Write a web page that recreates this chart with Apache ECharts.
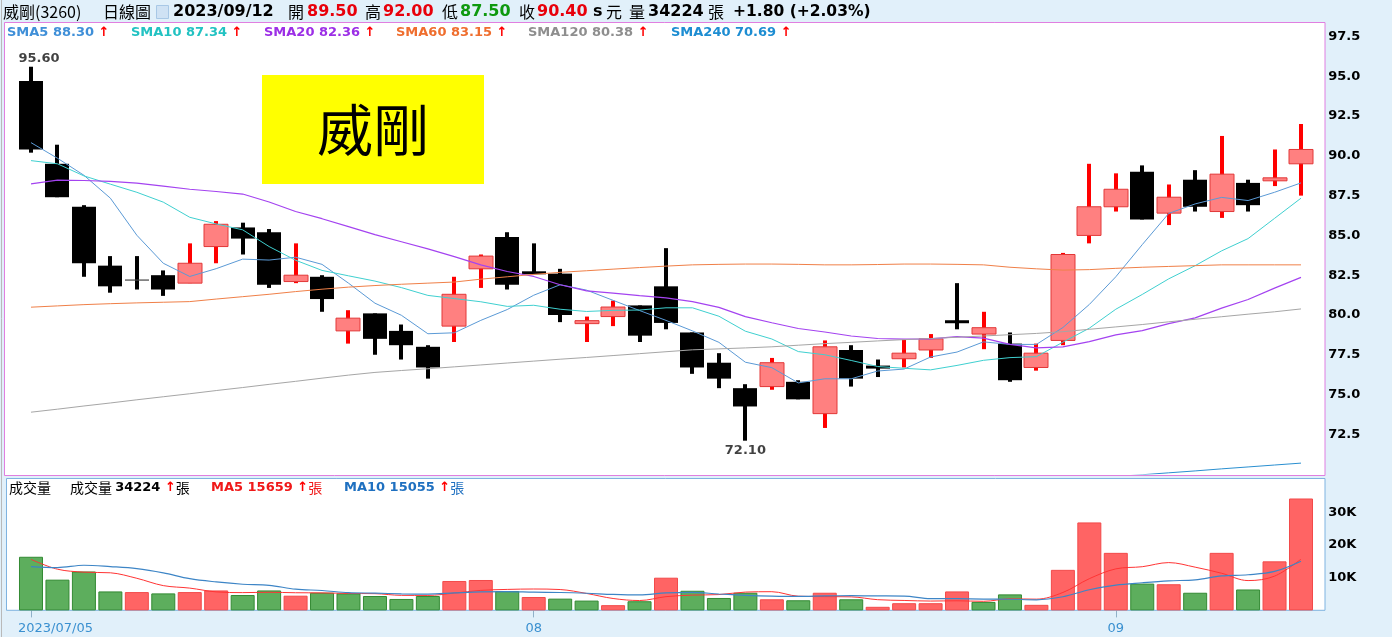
<!DOCTYPE html>
<html><head><meta charset="utf-8">
<script src="https://cdn.jsdelivr.net/npm/echarts@6/dist/echarts.min.js"></script>
<style>html,body{margin:0;padding:0;background:#fff}#c{width:1392px;height:642px}</style>
</head><body><div id="c"></div>
<script>
// ---------------- data ----------------
const dates = ['2023/07/05','2023/07/06','2023/07/07','2023/07/10','2023/07/11','2023/07/12','2023/07/13','2023/07/14','2023/07/17','2023/07/18','2023/07/19','2023/07/20','2023/07/21','2023/07/24','2023/07/25','2023/07/26','2023/07/27','2023/07/28','2023/07/31','2023/08/01','2023/08/02','2023/08/04','2023/08/07','2023/08/08','2023/08/09','2023/08/10','2023/08/11','2023/08/14','2023/08/15','2023/08/16','2023/08/17','2023/08/18','2023/08/21','2023/08/22','2023/08/23','2023/08/24','2023/08/25','2023/08/28','2023/08/29','2023/08/30','2023/08/31','2023/09/01','2023/09/04','2023/09/05','2023/09/06','2023/09/07','2023/09/08','2023/09/11','2023/09/12'];
const opens  = [94.7,89.5,86.8,83.1,82.2,82.5,82.0,84.3,85.5,85.2,82.1,82.4,79.0,80.1,79.0,78.0,79.3,82.9,84.9,82.7,82.6,79.5,79.9,80.6,81.8,78.9,77.0,75.4,75.5,75.8,73.8,77.8,76.75,77.25,77.8,79.6,78.8,78.2,76.7,78.4,85.0,86.8,89.0,86.4,88.5,86.5,88.3,88.45,89.5];
const closes = [90.4,87.4,83.25,81.8,82.2,81.6,83.25,85.7,84.8,81.9,82.5,81.0,79.8,78.5,78.1,76.7,81.3,83.7,81.9,82.6,80.0,79.6,80.5,78.7,79.5,76.7,76.0,74.25,77.0,74.7,78.0,76.0,76.7,77.6,78.5,79.55,79.2,75.9,77.6,83.8,86.8,87.9,86.0,87.4,86.8,88.85,86.9,88.6,90.4];
const highs  = [95.6,90.7,86.9,83.7,83.7,82.8,84.5,85.9,85.8,85.4,84.5,82.5,80.3,80.1,79.4,78.1,82.4,83.8,85.2,84.5,82.9,79.9,80.9,80.6,84.2,78.9,77.6,75.65,77.3,75.9,78.4,78.1,77.2,78.45,78.8,82.0,80.2,78.9,78.2,83.9,89.5,88.9,89.4,88.2,89.1,91.25,88.5,90.4,92.0];
const lows   = [90.2,87.4,82.4,81.4,81.6,81.2,82.0,83.25,83.8,81.7,82.0,80.2,78.2,77.5,77.2,76.0,78.3,81.7,81.6,82.6,79.55,78.3,79.3,78.3,79.1,76.3,75.4,72.1,75.3,74.7,72.9,75.5,76.1,76.7,77.3,79.1,77.85,75.8,76.5,78.1,84.5,86.5,86.0,85.65,86.5,86.1,86.5,88.1,87.5];
const volumes = [16400,9400,11900,5800,5600,5200,5600,6100,4700,6100,4500,5400,5200,4400,3500,4400,9000,9300,5900,4100,3600,3000,1600,2800,10000,6000,3800,5400,3400,3100,5400,3400,1100,2200,2200,5800,2600,4900,1700,12400,26900,17600,8200,8000,5400,17600,6400,15000,34224];

const sma5   = [90.83,89.85,88.78,87.34,85.01,83.25,82.42,82.91,83.51,83.45,83.63,83.18,82.0,80.74,79.98,78.82,78.88,79.66,80.34,81.24,81.9,81.56,80.92,80.28,79.66,79.0,78.28,77.03,76.69,75.73,75.99,75.99,76.48,76.6,77.36,77.67,78.31,78.15,78.15,79.21,80.66,82.4,84.42,86.38,86.98,87.39,87.19,87.71,88.30];
const sma10  = [89.7,89.5,88.74,88.22,87.71,87.09,86.14,85.72,85.35,84.3,83.44,82.8,82.46,82.13,81.72,81.23,81.03,80.83,80.54,80.61,80.36,80.22,80.29,80.31,80.45,80.45,79.92,78.98,78.49,77.7,77.5,77.14,76.76,76.65,76.55,76.83,77.15,77.32,77.38,78.29,79.17,80.36,81.29,82.27,83.1,84.03,84.8,86.07,87.34];
const sma20  = [88.24,88.48,88.45,88.4,88.28,88.1,87.9,87.76,87.6,87.1,86.5,86.05,85.55,85.05,84.6,84.15,83.67,83.15,82.73,82.42,81.9,81.51,81.37,81.22,81.08,80.84,80.48,79.9,79.51,79.15,78.93,78.68,78.52,78.48,78.5,78.64,78.54,78.15,77.93,77.99,78.33,78.75,79.02,79.46,79.82,80.43,80.97,81.69,82.36];
const sma60  = [80.49,80.57,80.65,80.71,80.76,80.8,80.84,81.0,81.15,81.3,81.47,81.62,81.75,81.85,81.93,82.0,82.07,82.25,82.4,82.55,82.68,82.78,82.88,82.98,83.07,83.15,83.18,83.2,83.2,83.18,83.15,83.15,83.17,83.2,83.2,83.18,83.15,83.0,82.9,82.82,82.85,82.93,83.0,83.05,83.1,83.15,83.15,83.15,83.15];
const sma120 = [73.89,74.08,74.28,74.47,74.67,74.86,75.05,75.25,75.44,75.64,75.83,76.03,76.22,76.39,76.51,76.62,76.74,76.86,76.98,77.1,77.22,77.33,77.45,77.57,77.69,77.81,77.87,77.93,78.0,78.1,78.2,78.28,78.37,78.45,78.52,78.6,78.68,78.76,78.84,78.95,79.1,79.25,79.4,79.57,79.73,79.89,80.05,80.2,80.38];
const sma240 = [null,null,null,null,null,null,null,null,null,null,null,null,null,null,null,null,null,null,null,null,null,null,null,null,null,null,null,null,null,null,null,null,null,null,null,null,null,null,null,null,null,69.85,69.96,70.08,70.2,70.33,70.45,70.57,70.69];
const volMa5  = [15600,12600,11700,11500,9820,7580,6820,5660,5440,5540,5400,5360,5180,5120,4600,4580,5300,6120,6420,6540,6380,5180,3640,3020,4200,4680,4840,5600,5720,4340,4220,4140,3280,3040,2860,2940,2780,3540,3440,5480,9700,12700,13360,14620,13220,11360,9120,10480,15659];
const volMa10 = [13400,13100,13800,13400,12800,11500,9700,8700,8000,7680,6490,6090,5420,5280,5070,4990,5330,5650,5770,5570,5480,5240,4880,4720,5370,5530,5010,4620,4370,4270,4450,4490,4440,4380,3600,3580,3460,3410,3240,4170,6320,7740,8450,9030,9350,10530,10910,11920,15055];

const xTickIdx  = [0, 19, 41];
const xTickText = ['2023/07/05', '08', '09'];

// ---------------- styles ----------------
const C = {
  sma5:'#5b9ad6', sma10:'#3fd0d0', sma20:'#a443f0', sma60:'#f08048', sma120:'#a6a6a6', sma240:'#2a8fd0',
  t5:'#3f8fd8', t10:'#22c2c2', t20:'#9c2fe6', t60:'#ef6e2e', t120:'#8e8e8e', t240:'#1d8dd2',
  red:'#e8000b', green:'#0f990f', bg:'#e1f0fa'
};
const NUM = '"DejaVu Sans", Verdana, sans-serif';
const CJK = '"Noto Sans CJK TC", "Noto Sans CJK SC", sans-serif';
const N = dates.length;
const last = N - 1;

const chart = echarts.init(document.getElementById('c'), null, {width:1392, height:642});

function renderCandle(params, api) {
  const i = api.value(0);
  const o = api.value(1), c = api.value(2), l = api.value(3), h = api.value(4);
  const pO = api.coord([i, o]), pC = api.coord([i, c]);
  const pH = api.coord([i, h]), pL = api.coord([i, l]);
  const slot = api.size([1, 0])[0];
  const bw = Math.round(slot * 0.907);
  const x = Math.round(pO[0]);
  const up = c > o;
  const flat = o === c;
  let top = Math.min(pO[1], pC[1]);
  let hgt = Math.abs(pO[1] - pC[1]);
  if (flat) { top -= 0.5; hgt = 1.2; }
  else if (hgt < 3) { top -= (3 - hgt) / 2; hgt = 3; }
  return {type:'group', children:[
    {type:'rect', shape:{x:x - 2, y:pH[1], width:4, height:pL[1] - pH[1]}, style:{fill: up ? '#ff0000' : '#000'}},
    {type:'rect', shape:{x:x - bw/2, y:top, width:bw, height:hgt},
      style: up ? {fill:'#ff8080', stroke:'#e23838', lineWidth:1} : {fill: flat ? '#444' : '#000'}}
  ]};
}

const candleData = dates.map((d, i) => [i, opens[i], closes[i], lows[i], highs[i]]);
const volData = volumes.map((v, i) => {
  const up = i > 0 && closes[i] > closes[i - 1];
  return {value: v, itemStyle: up ? {color:'#ff6464', borderColor:'#f24a4a', borderWidth:1}
                                   : {color:'#5dae5d', borderColor:'#338a33', borderWidth:1}};
});
let maxI = 0, minI = 0;
highs.forEach((v, i) => { if (v > highs[maxI]) maxI = i; });
lows.forEach((v, i) => { if (v < lows[minI]) minI = i; });

function line(name, data, color, xi, yi, w, smooth) {
  return {name, type:'line', xAxisIndex:xi, yAxisIndex:yi, data, showSymbol:false, symbol:'none',
    smooth: smooth || false, lineStyle:{color, width:w || 1}, itemStyle:{color}, silent:true, z:5, clip:true};
}

function txt(x, y, text, fill, font) {
  return {type:'text', x, y, z:10, style:{text, fill, font, textAlign:'left', align:'left', textVerticalAlign:'middle', verticalAlign:'middle'}};
}
function rtxt(x, y, text, rich) {
  return {type:'text', x, y, z:10, style:{text, rich, textAlign:'left', align:'left', textVerticalAlign:'middle', verticalAlign:'middle'}};
}
const B13 = 'bold 13px ' + NUM;
const arrowStyle = {fill:'#ff0000', font:'bold 13px ' + NUM};

function smaItem(x, label, arr, color) {
  return rtxt(x, 33, '{a|' + label + ' ' + arr[last].toFixed(2) + '}{u| ↑}', {a:{fill:color, font:B13}, u:arrowStyle});
}

const f2 = v => v.toFixed(2);
const chg = closes[last] - closes[last - 1];
const pct = chg / closes[last - 1] * 100;
const HB = 'bold 16px ' + NUM;
const HC = '16px ' + CJK;

const graphic = [
  {type:'rect', z:-10, shape:{x:0, y:0, width:1392, height:637}, style:{fill:C.bg}},
  {type:'line', z:-9, shape:{x1:1.5, y1:0, x2:1.5, y2:637}, style:{stroke:'#b9b9b9', lineWidth:1}},
  {type:'rect', z:-8, shape:{x:4.5, y:22.5, width:1320.5, height:453}, style:{fill:'#fff', stroke:'#e07fe0', lineWidth:1}},
  {type:'rect', z:-8, shape:{x:6.5, y:478.5, width:1318.5, height:131.8}, style:{fill:'#fff', stroke:'#7fb3e0', lineWidth:1}},
  // header
  txt(3, 12, '威剛(3260)', '#000', HC),
  txt(103, 12, '日線圖', '#000', HC),
  {type:'rect', z:10, shape:{x:156.5, y:5.5, width:12, height:13}, style:{fill:'#cfe2f4', stroke:'#a8c8e6', lineWidth:1}},
  txt(173, 12, dates[last], '#000', HB),
  txt(288, 12, '開', '#000', HC),
  txt(307, 12, f2(opens[last]), C.red, HB),
  txt(365, 12, '高', '#000', HC),
  txt(383, 12, f2(highs[last]), C.red, HB),
  txt(442, 12, '低', '#000', HC),
  txt(460, 12, f2(lows[last]), C.green, HB),
  txt(519, 12, '收', '#000', HC),
  txt(537, 12, f2(closes[last]), C.red, HB),
  txt(593, 12, 's', '#000', HB),
  txt(606, 12, '元', '#000', HC),
  txt(629, 12, '量', '#000', HC),
  txt(648, 12, String(volumes[last]), '#000', HB),
  txt(708, 12, '張', '#000', HC),
  txt(733, 12, '+' + f2(chg) + ' (+' + f2(pct) + '%)', '#000', 'bold 15.5px ' + NUM),
  // SMA legend row
  smaItem(7, 'SMA5', sma5, C.t5),
  smaItem(131, 'SMA10', sma10, C.t10),
  smaItem(264, 'SMA20', sma20, C.t20),
  smaItem(396, 'SMA60', sma60, C.t60),
  smaItem(528, 'SMA120', sma120, C.t120),
  smaItem(671, 'SMA240', sma240, C.t240),
  // volume legend row
  txt(9, 488, '成交量', '#000', '14px ' + CJK),
  rtxt(70, 488, '{c|成交量 }{b|' + volumes[last] + '}{u| ↑}{c|張}', {c:{fill:'#000', font:'14px ' + CJK}, b:{fill:'#000', font:B13}, u:arrowStyle}),
  rtxt(211, 488, '{b|MA5 ' + volMa5[last] + '}{u| ↑}{c|張}', {b:{fill:'#f01818', font:B13}, u:arrowStyle, c:{fill:'#f01818', font:'14px ' + CJK}}),
  rtxt(344, 488, '{b|MA10 ' + volMa10[last] + '}{u| ↑}{c|張}', {b:{fill:'#1f70c0', font:B13}, u:arrowStyle, c:{fill:'#1f70c0', font:'14px ' + CJK}}),
  // yellow title box
  {type:'rect', z:1, shape:{x:262, y:75, width:222, height:109}, style:{fill:'#ffff00'}},
  {type:'text', z:2, x:373, y:130, style:{text:'威剛', fill:'#000', font:'56px ' + CJK, textAlign:'center', align:'center', textVerticalAlign:'middle', verticalAlign:'middle'}}
];

const slotLeft = 17.77, slotWidth = 1296.46;

const option = {
  animation:false,
  backgroundColor:'#ffffff',
  graphic,
  grid:[
    {left:slotLeft, width:slotWidth, top:36.5, height:437.6},
    {left:slotLeft, width:slotWidth, top:479.6, height:130.8}
  ],
  xAxis:[
    {type:'category', gridIndex:0, data:dates, boundaryGap:true, axisLine:{show:false}, axisTick:{show:false}, axisLabel:{show:false}, splitLine:{show:false}},
    {type:'category', gridIndex:1, data:dates, boundaryGap:true, axisLine:{show:false}, splitLine:{show:false},
      axisTick:{show:true, alignWithLabel:true, length:7, interval:(i) => xTickIdx.indexOf(i) >= 0, lineStyle:{color:'#8fb0c8'}},
      axisLabel:{show:true, margin:12, interval:(i) => xTickIdx.indexOf(i) >= 0,
        formatter:(v, i) => { const k = xTickIdx.indexOf(i); if (k < 0) return ''; return k === 0 ? '{f|' + xTickText[k] + '}' : xTickText[k]; },
        color:'#3a90d0', fontSize:13, fontFamily:NUM,
        rich:{f:{color:'#3a90d0', fontSize:13, fontFamily:NUM, padding:[0,0,0,49]}}}}
  ],
  yAxis:[
    {type:'value', gridIndex:0, position:'right', offset:11, min:70, max:97.5, interval:2.5, scale:false,
      axisLine:{show:false}, axisTick:{show:false}, splitLine:{show:false},
      axisLabel:{margin:3, color:'#000', fontWeight:'bold', fontSize:13, fontFamily:NUM, formatter:(v) => v <= 70 ? '' : v.toFixed(1)}},
    {type:'value', gridIndex:1, position:'right', offset:11, min:0, max:40000, interval:10000,
      axisLine:{show:false}, axisTick:{show:false}, splitLine:{show:false},
      axisLabel:{margin:3, color:'#000', fontWeight:'bold', fontSize:13, fontFamily:NUM, formatter:(v) => (v <= 0 || v >= 40000) ? '' : (v / 1000) + 'K'}}
  ],
  series:[
    {type:'custom', name:'K', xAxisIndex:0, yAxisIndex:0, data:candleData, renderItem:renderCandle, encode:{x:0, y:[1,2,3,4]}, z:3, silent:true},
    line('SMA5', sma5, C.sma5, 0, 0, 1),
    line('SMA10', sma10, C.sma10, 0, 0, 1),
    line('SMA20', sma20, C.sma20, 0, 0, 1.2),
    line('SMA60', sma60, C.sma60, 0, 0, 1),
    line('SMA120', sma120, C.sma120, 0, 0, 1),
    line('SMA240', sma240, C.sma240, 0, 0, 1),
    {type:'scatter', xAxisIndex:0, yAxisIndex:0, symbolSize:0, silent:true, z:6,
      data:[
        {value:[maxI, highs[maxI]], label:{position:'top', distance:2, offset:[8, 0]}},
        {value:[minI, lows[minI]], label:{position:'bottom', distance:3}}
      ],
      label:{show:true, formatter:(p) => p.value[1].toFixed(2), color:'#111', fontWeight:'bold', fontSize:13, fontFamily:NUM}},
    {type:'bar', name:'VOL', xAxisIndex:1, yAxisIndex:1, data:volData, barWidth:24, silent:true, z:3},
    line('VMA5', volMa5, '#ff3434', 1, 1, 1, 0.35),
    line('VMA10', volMa10, '#3d85c6', 1, 1, 1.2, 0.35)
  ]
};
chart.setOption(option);
</script>
</body></html>
